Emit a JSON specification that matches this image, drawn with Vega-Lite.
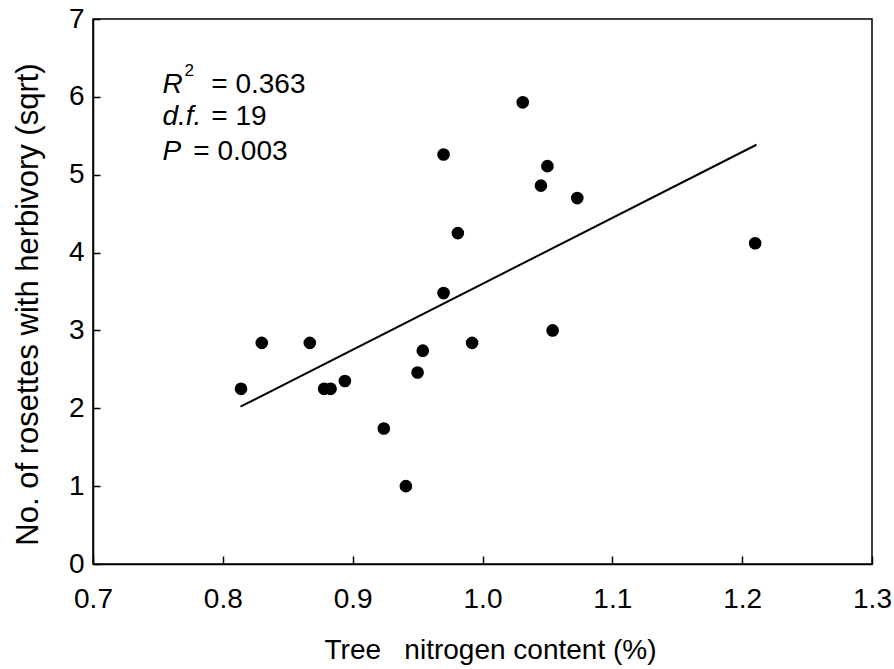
{
  "$schema": "https://vega.github.io/schema/vega-lite/v6.json",
  "autosize": "none",
  "width": 779,
  "height": 545,
  "padding": {"left": 93, "top": 19, "right": 22, "bottom": 105},
  "background": "white",
  "config": {
    "font": "Liberation Sans",
    "view": {"stroke": "black", "strokeWidth": 1.5},
    "axis": {"grid": false, "domainColor": "black", "domainWidth": 1.5, "tickColor": "black", "tickWidth": 1.5, "labelColor": "black", "titleColor": "black", "labelFont": "Liberation Sans", "titleFont": "Liberation Sans", "titleFontWeight": "normal", "labelFontSize": 28, "titleFontSize": 28}
  },
  "datasets": {
    "points": [
      {"n": 0.814, "r": 2.25},
      {"n": 0.830, "r": 2.84},
      {"n": 0.867, "r": 2.84},
      {"n": 0.878, "r": 2.25},
      {"n": 0.883, "r": 2.25},
      {"n": 0.894, "r": 2.35},
      {"n": 0.924, "r": 1.74},
      {"n": 0.941, "r": 1.0},
      {"n": 0.950, "r": 2.46},
      {"n": 0.954, "r": 2.74},
      {"n": 0.970, "r": 5.26},
      {"n": 0.970, "r": 3.48},
      {"n": 0.981, "r": 4.25},
      {"n": 0.992, "r": 2.84},
      {"n": 1.031, "r": 5.93},
      {"n": 1.045, "r": 4.86},
      {"n": 1.050, "r": 5.11},
      {"n": 1.054, "r": 3.0},
      {"n": 1.073, "r": 4.70},
      {"n": 1.210, "r": 4.12}
    ],
    "fit": [
      {"n": 0.8136, "r": 2.02},
      {"n": 1.211, "r": 5.385}
    ],
    "statsItalic": [
      {"n": 0.7535, "r": 6.054, "t": "R"},
      {"n": 0.7535, "r": 5.643, "t": "d.f."},
      {"n": 0.7535, "r": 5.193, "t": "P"}
    ],
    "statsSup": [
      {"n": 0.7705, "r": 6.27, "t": "2"}
    ],
    "statsPlain": [
      {"n": 0.7911, "r": 6.054, "t": "= 0.363"},
      {"n": 0.7911, "r": 5.643, "t": "= 19"},
      {"n": 0.7773, "r": 5.193, "t": "= 0.003"}
    ]
  },
  "layer": [
    {
      "data": {"name": "points"},
      "mark": {"type": "point", "filled": true, "shape": "circle", "color": "black", "opacity": 1, "size": 160},
      "encoding": {
        "x": {"field": "n", "type": "quantitative", "scale": {"domain": [0.7, 1.3], "nice": false, "zero": false},
          "axis": {"title": "Tree\u00a0\u00a0\u00a0nitrogen content (%)", "values": [0.7, 0.8, 0.9, 1.0, 1.1, 1.2, 1.3], "format": ".1f", "tickSize": -8, "labelPadding": 29, "titlePadding": 23, "titleX": 397, "labelFlush": false}},
        "y": {"field": "r", "type": "quantitative", "scale": {"domain": [0, 7], "nice": false},
          "axis": {"title": "No. of rosettes with herbivory (sqrt)", "values": [0, 1, 2, 3, 4, 5, 6, 7], "format": "d", "tickSize": -7, "labelPadding": 16, "titlePadding": 24, "titleFontSize": 31, "titleY": 285, "labelFlush": false}}
      }
    },
    {
      "data": {"name": "fit"},
      "mark": {"type": "line", "color": "black", "strokeWidth": 2},
      "encoding": {
        "x": {"field": "n", "type": "quantitative"},
        "y": {"field": "r", "type": "quantitative"}
      }
    },
    {
      "data": {"name": "statsItalic"},
      "mark": {"type": "text", "align": "left", "baseline": "alphabetic", "fontSize": 28, "fontStyle": "italic", "color": "black"},
      "encoding": {
        "x": {"field": "n", "type": "quantitative"},
        "y": {"field": "r", "type": "quantitative"},
        "text": {"field": "t"}
      }
    },
    {
      "data": {"name": "statsSup"},
      "mark": {"type": "text", "align": "left", "baseline": "alphabetic", "fontSize": 17, "color": "black"},
      "encoding": {
        "x": {"field": "n", "type": "quantitative"},
        "y": {"field": "r", "type": "quantitative"},
        "text": {"field": "t"}
      }
    },
    {
      "data": {"name": "statsPlain"},
      "mark": {"type": "text", "align": "left", "baseline": "alphabetic", "fontSize": 28, "color": "black"},
      "encoding": {
        "x": {"field": "n", "type": "quantitative"},
        "y": {"field": "r", "type": "quantitative"},
        "text": {"field": "t"}
      }
    }
  ]
}
